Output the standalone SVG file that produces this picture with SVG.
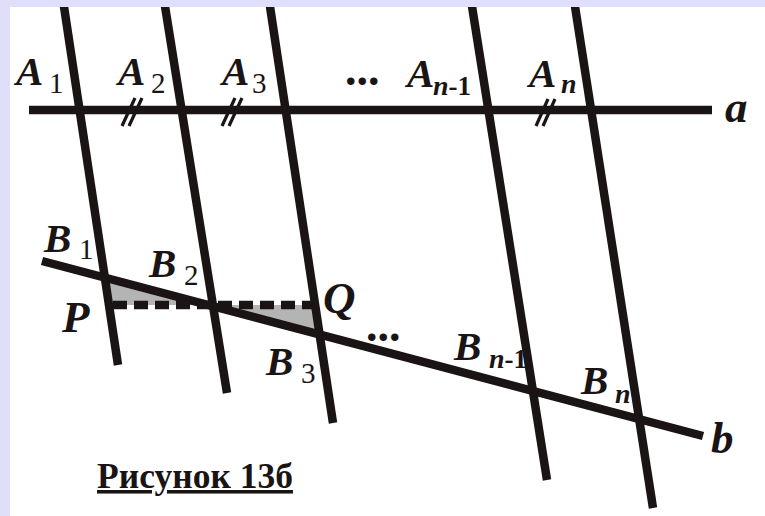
<svg xmlns="http://www.w3.org/2000/svg" width="765" height="516" viewBox="0 0 765 516">
  <style>
    .ln { stroke: #1a1414; stroke-width: 8.5; fill: none; }
    .tk { stroke: #1a1414; stroke-width: 3.2; fill: none; }
    .lbl { font-family: "Liberation Serif", "Times New Roman", serif; font-style: italic; font-weight: bold; font-size: 41px; fill: #1a1414; }
    .big { font-size: 45px; }
    .sub { font-family: "Liberation Serif", "Times New Roman", serif; font-style: normal; font-weight: normal; font-size: 29px; fill: #1a1414; }
    .subi { font-family: "Liberation Serif", "Times New Roman", serif; font-style: italic; font-weight: bold; font-size: 28px; fill: #1a1414; }
    .subb { font-family: "Liberation Serif", "Times New Roman", serif; font-style: normal; font-weight: bold; font-size: 27px; fill: #1a1414; }
    .dots { font-family: "Liberation Serif", "Times New Roman", serif; font-weight: bold; font-size: 46px; fill: #1a1414; }
    .cap { font-family: "Liberation Serif", "Times New Roman", serif; font-weight: bold; font-size: 35.5px; fill: #1a1414; }
  </style>
  <defs>
    <clipPath id="panel"><rect x="10" y="7" width="755" height="509"/></clipPath>
  </defs>
  <rect x="0" y="0" width="765" height="516" fill="#dfdffa"/>
  <rect x="10" y="7" width="755" height="509" fill="#ffffff"/>

  <g id="shading" fill="#b4b4b4">
    <polygon points="105,279 108,305 213,305"/>
    <polygon points="213,305 316,305 320,333"/>
  </g>

  <g id="connectors" clip-path="url(#panel)">
    <line id="line-a" class="ln" x1="29" y1="110" x2="712" y2="110"/>
    <line id="t1" class="ln" x1="63" y1="0" x2="118" y2="365"/>
    <line id="t2" class="ln" x1="164" y1="0" x2="227" y2="393"/>
    <line id="t3" class="ln" x1="269" y1="0" x2="333" y2="423"/>
    <line id="tn1" class="ln" x1="471" y1="0" x2="547" y2="480"/>
    <line id="tn" class="ln" x1="574" y1="0" x2="653" y2="508"/>
    <line id="line-b" class="ln" x1="42" y1="261" x2="703" y2="436"/>
    <line id="pq" class="ln" x1="113" y1="305" x2="313" y2="305" stroke-width="7" stroke-dasharray="14 7"/>
    <g id="ticks">
      <line class="tk" x1="135" y1="98" x2="122" y2="126"/>
      <line class="tk" x1="142" y1="98" x2="129" y2="126"/>
      <line class="tk" x1="235" y1="98" x2="222" y2="126"/>
      <line class="tk" x1="242" y1="98" x2="229" y2="126"/>
      <line class="tk" x1="548" y1="99" x2="536" y2="126"/>
      <line class="tk" x1="555" y1="99" x2="543" y2="126"/>
    </g>
  </g>

  <g id="A1"><text class="lbl" x="16" y="85">A</text><text class="sub" x="49" y="93">1</text></g>
  <g id="A2"><text class="lbl" x="118" y="85">A</text><text class="sub" x="151" y="93">2</text></g>
  <g id="A3"><text class="lbl" x="222" y="85">A</text><text class="sub" x="252" y="93">3</text></g>
  <g id="dots-a"><text class="dots" x="345" y="85">...</text></g>
  <g id="An1"><text class="lbl" x="407" y="87">A</text><text x="433" y="95"><tspan class="subi">n</tspan><tspan class="subb">-1</tspan></text></g>
  <g id="An"><text class="lbl" x="529" y="87">A</text><text class="subi" x="561" y="93">n</text></g>
  <g id="label-a"><text class="lbl big" x="725" y="122">a</text></g>

  <g id="B1"><text class="lbl" x="44" y="252">B</text><text class="sub" x="79" y="259">1</text></g>
  <g id="B2"><text class="lbl" x="149" y="277">B</text><text class="sub" x="184" y="285">2</text></g>
  <g id="P"><text class="lbl big" x="62" y="332">P</text></g>
  <g id="Q"><text class="lbl big" x="323" y="313">Q</text></g>
  <g id="dots-b"><text class="dots" x="366" y="341">...</text></g>
  <g id="B3"><text class="lbl" x="266" y="375">B</text><text class="sub" x="301" y="383">3</text></g>
  <g id="Bn1"><text class="lbl" x="454" y="360">B</text><text x="489" y="368"><tspan class="subi">n</tspan><tspan class="subb">-1</tspan></text></g>
  <g id="Bn"><text class="lbl" x="581" y="394">B</text><text class="subi" x="615" y="403">n</text></g>
  <g id="label-b"><text class="lbl big" x="711" y="453">b</text></g>

  <g id="caption"><text class="cap" x="97" y="488" text-decoration="underline">Рисунок 13б</text></g>
</svg>
